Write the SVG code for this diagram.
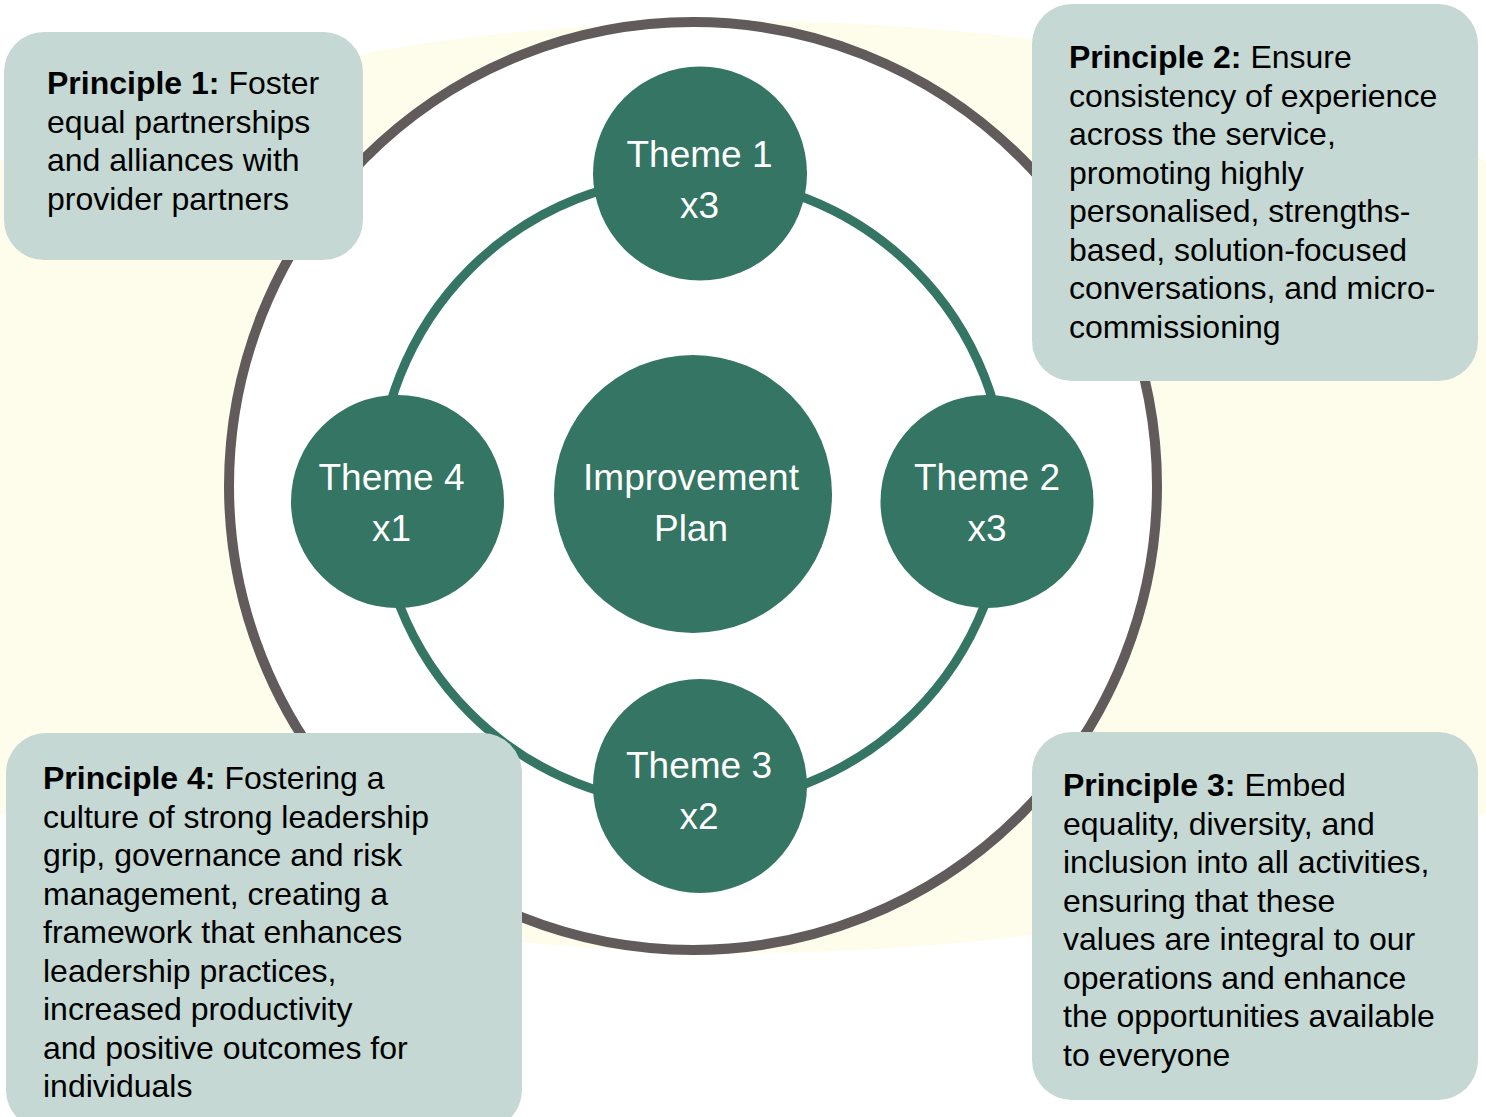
<svg xmlns="http://www.w3.org/2000/svg" width="1486" height="1117" viewBox="0 0 1486 1117">
<style>
.box{fill:#C5D8D3}
.ptext{font-family:"Liberation Sans",Arial,sans-serif;font-size:32px;fill:#000}
.b{font-weight:bold}
.theme{fill:#347563}
.ttext{font-family:"Liberation Sans",Arial,sans-serif;font-size:37px;fill:#fff;text-anchor:middle}
</style>
<rect x="0" y="0" width="1486" height="1117" fill="#fff"/>
<ellipse cx="743" cy="487" rx="1040" ry="466" fill="#FEFDEC"/>
<circle id="outer" cx="693" cy="486" r="464" fill="#fff" stroke="#625B5B" stroke-width="10"/>
<g id="connectors">
<circle cx="692" cy="491" r="314" fill="none" stroke="#347563" stroke-width="9"/>
</g>
<g id="improvement">
<circle class="theme" cx="693" cy="494" r="139"/>
<text class="ttext" x="691" y="490">Improvement</text>
<text class="ttext" x="691" y="541">Plan</text>
</g>
<g id="theme1">
<circle class="theme" cx="700" cy="173.5" r="107"/>
<text class="ttext" x="699.5" y="167">Theme 1</text>
<text class="ttext" x="699.5" y="218">x3</text>
</g>
<g id="theme2">
<circle class="theme" cx="987" cy="501.5" r="106.5"/>
<text class="ttext" x="987" y="490">Theme 2</text>
<text class="ttext" x="987" y="541">x3</text>
</g>
<g id="theme3">
<circle class="theme" cx="700" cy="786" r="107"/>
<text class="ttext" x="699" y="778">Theme 3</text>
<text class="ttext" x="699" y="829">x2</text>
</g>
<g id="theme4">
<circle class="theme" cx="397.5" cy="501.5" r="106.5"/>
<text class="ttext" x="391.5" y="490">Theme 4</text>
<text class="ttext" x="391.5" y="541">x1</text>
</g>
<g id="principle1">
<rect class="box" x="4" y="32" width="359" height="228" rx="40"/>
<text class="ptext" x="47" y="94"><tspan class="b">Principle 1:</tspan> Foster</text>
<text class="ptext" x="47" y="132.5">equal partnerships</text>
<text class="ptext" x="47" y="171">and alliances with</text>
<text class="ptext" x="47" y="209.5">provider partners</text>
</g>
<g id="principle2">
<rect class="box" x="1032" y="4" width="446" height="377" rx="40"/>
<text class="ptext" x="1069" y="68"><tspan class="b">Principle 2:</tspan> Ensure</text>
<text class="ptext" x="1069" y="106.5">consistency of experience</text>
<text class="ptext" x="1069" y="145">across the service,</text>
<text class="ptext" x="1069" y="183.5">promoting highly</text>
<text class="ptext" x="1069" y="222">personalised, strengths-</text>
<text class="ptext" x="1069" y="260.5">based, solution-focused</text>
<text class="ptext" x="1069" y="299">conversations, and micro-</text>
<text class="ptext" x="1069" y="337.5">commissioning</text>
</g>
<g id="principle3">
<rect class="box" x="1032" y="732" width="446" height="368" rx="40"/>
<text class="ptext" x="1063" y="796"><tspan class="b">Principle 3:</tspan> Embed</text>
<text class="ptext" x="1063" y="834.5">equality, diversity, and</text>
<text class="ptext" x="1063" y="873">inclusion into all activities,</text>
<text class="ptext" x="1063" y="911.5">ensuring that these</text>
<text class="ptext" x="1063" y="950">values are integral to our</text>
<text class="ptext" x="1063" y="988.5">operations and enhance</text>
<text class="ptext" x="1063" y="1027">the opportunities available</text>
<text class="ptext" x="1063" y="1065.5">to everyone</text>
</g>
<g id="principle4">
<rect class="box" x="6" y="733" width="516" height="397" rx="40"/>
<text class="ptext" x="43" y="789"><tspan class="b">Principle 4:</tspan> Fostering a</text>
<text class="ptext" x="43" y="827.5">culture of strong leadership</text>
<text class="ptext" x="43" y="866">grip, governance and risk</text>
<text class="ptext" x="43" y="904.5">management, creating a</text>
<text class="ptext" x="43" y="943">framework that enhances</text>
<text class="ptext" x="43" y="981.5">leadership practices,</text>
<text class="ptext" x="43" y="1020">increased productivity</text>
<text class="ptext" x="43" y="1058.5">and positive outcomes for</text>
<text class="ptext" x="43" y="1097">individuals</text>
</g>
</svg>
